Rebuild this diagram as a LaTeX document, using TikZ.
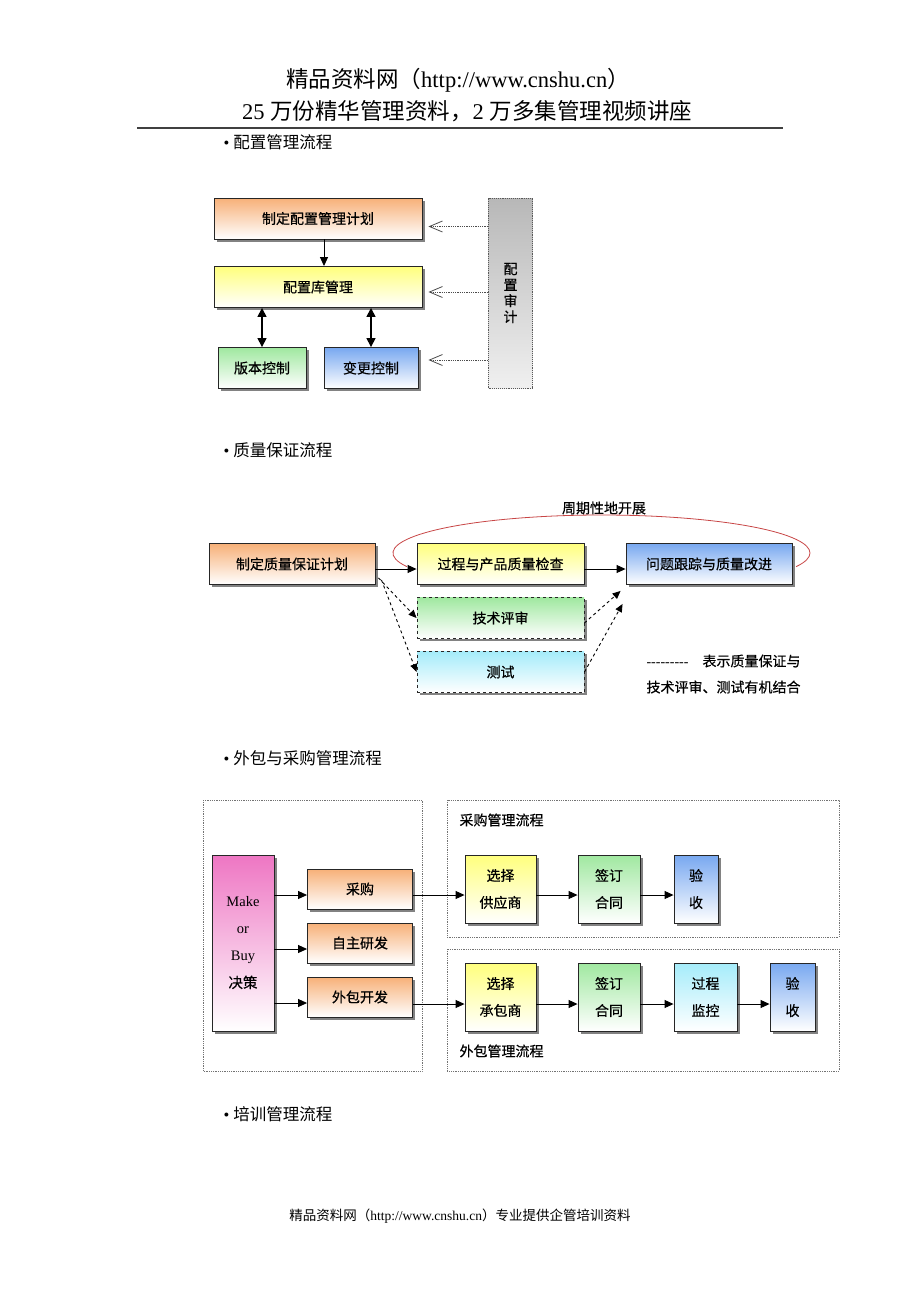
\documentclass[tikz,border=0pt]{standalone}
\usepackage{fontspec}
\setmainfont{Liberation Serif}
\newfontfamily\cjk{Noto Sans CJK SC}
\newfontfamily\cjkbox[FakeBold=0.4]{Noto Sans CJK SC}
\usetikzlibrary{arrows.meta,shadows}

\definecolor{boxorange}{RGB}{247,176,120}
\definecolor{boxyellow}{RGB}{255,255,125}
\definecolor{boxgreen}{RGB}{160,232,160}
\definecolor{boxblue}{RGB}{120,168,240}
\definecolor{boxcyan}{RGB}{165,236,250}
\definecolor{boxpink}{RGB}{238,118,195}
\definecolor{loopred}{RGB}{200,70,70}

\newcommand{\zh}[1]{{\cjk #1}}

\begin{document}
\begin{tikzpicture}[x=1pt,y=-1pt,
    wh/.style 2 args={minimum width=#1pt,minimum height=#2pt},
    flowbox/.style={draw=black!85, line width=0.9pt, bottom color=white, inner sep=0pt, align=center,
        drop shadow={shadow xshift=2.5pt,shadow yshift=-2.5pt,fill=black!65,opacity=0.75},
        font=\cjkbox\fontsize{14}{27}\selectfont},
    auditbox/.style={draw=black!65, densely dotted, line width=0.9pt, top color=black!28, bottom color=black!6,
        align=center, font=\cjkbox\fontsize{14}{16}\selectfont},
    regionbox/.style={draw=black!55, densely dotted, line width=0.8pt},
    zhtext/.style={font=\cjkbox\fontsize{14}{17}\selectfont},
    headtext/.style={font=\fontsize{16.5}{20}\selectfont, anchor=west},
    flowarrow/.style={line width=0.9pt, -{Triangle[length=9pt,width=8pt]}},
    bothways/.style={line width=1.5pt, {Triangle[length=9pt,width=9pt]}-{Triangle[length=9pt,width=9pt]}},
    auditarrow/.style={densely dotted, line width=0.8pt, draw=black!70, -{Straight Barb[length=13pt,width=11pt]}},
    dasharrow/.style={dashed, line width=0.9pt, -{Triangle[length=8pt,width=7pt]}}]

    \path[fill=white] (0,0) rectangle (920,1302);

    \node[font=\fontsize{22.5}{27}\selectfont] (title) at (458,80) {\zh{精品资料网（}http://www.cnshu.cn\zh{）}};
    \node[font=\fontsize{22.5}{27}\selectfont] (subtitle) at (467,111) {25 \zh{万份精华管理资料，}2 \zh{万多集管理视频讲座}};
    \draw[line width=1.6pt, black!75] (137,128) -- (783,128);

    \node[headtext] (secconfig) at (220,142) {\textbullet\hspace{4pt}\zh{配置管理流程}};
    \node[headtext] (secquality) at (220,450) {\textbullet\hspace{4pt}\zh{质量保证流程}};
    \node[headtext] (secsource) at (220,758) {\textbullet\hspace{4pt}\zh{外包与采购管理流程}};
    \node[headtext] (sectrain) at (220,1114) {\textbullet\hspace{4pt}\zh{培训管理流程}};

    \node[flowbox, top color=boxorange, wh={208}{41}] (cfgplan) at (318,218.5) {制定配置管理计划};
    \node[flowbox, top color=boxyellow, wh={208}{41}] (cfglib) at (318,287) {配置库管理};
    \node[flowbox, top color=boxgreen, wh={88}{41}] (version) at (262,368) {版本控制};
    \node[flowbox, top color=boxblue, wh={94}{41}] (change) at (371,368) {变更控制};
    \node[auditbox, wh={44}{190}] (audit) at (510.5,293) {配\\置\\审\\计};

    \draw[flowarrow] ([xshift=6pt]cfgplan.south) -- ([xshift=6pt]cfglib.north);
    \draw[bothways] (version.north) -- (version.north |- cfglib.south);
    \draw[bothways] (change.north) -- (change.north |- cfglib.south);
    \draw[auditarrow] ([yshift=-8pt]audit.west |- cfgplan.east) -- ([shift={(6pt,-8pt)}]cfgplan.east);
    \draw[auditarrow] ([yshift=-5pt]audit.west |- cfglib.east) -- ([shift={(6pt,-5pt)}]cfglib.east);
    \draw[auditarrow] ([yshift=8pt]audit.west |- change.east) -- ([shift={(6pt,8pt)}]cfglib.east |- change.east);

    \node[flowbox, top color=boxorange, wh={166}{41}] (qaplan) at (292,564) {制定质量保证计划};
    \node[flowbox, top color=boxyellow, wh={167}{41}] (inspect) at (500.5,564) {过程与产品质量检查};
    \node[flowbox, top color=boxblue, wh={166}{41}] (improve) at (709,564) {问题跟踪与质量改进};
    \node[flowbox, dashed, top color=boxgreen, wh={167}{41}] (review) at (500.5,618) {技术评审};
    \node[flowbox, dashed, top color=boxcyan, wh={167}{41}] (test) at (500.5,672) {测试};
    \node[zhtext] (cycle) at (604,508) {周期性地开展};
    \draw[loopred, line width=0.8pt] (601.5,553) ++(159:208.5 and 38) arc[start angle=159, end angle=381, x radius=208.5, y radius=38];

    \draw[flowarrow] ([yshift=-5pt]qaplan.east) -- ([yshift=-5pt]inspect.west);
    \draw[flowarrow] ([yshift=-5pt]inspect.east) -- ([yshift=-5pt]improve.west);
    \coordinate (tipa) at ([shift={(-5pt,-6pt)}]improve.south west);
    \coordinate (tipb) at ([shift={(-3pt,-19pt)}]improve.south west);
    \draw[dasharrow] ([shift={(3pt,7pt)}]qaplan.south east) -- (review.west);
    \draw[dasharrow] ([shift={(6pt,5pt)}]qaplan.south east) -- (test.west);
    \draw[dasharrow] ([yshift=-5pt]review.east) -- (tipa);
    \draw[dasharrow] (test.east) -- (tipb);
    \node[zhtext, anchor=west] (legenda) at (643,661) {\rmfamily -{}-{}-{}-{}-{}-{}-{}-{}-\hspace{14pt}\cjkbox 表示质量保证与};
    \node[zhtext, anchor=west] (legendb) at (643,687) {技术评审、测试有机结合};

    \draw[regionbox] (203,800) rectangle (422,1071);
    \draw[regionbox] (447,800) rectangle (839,937);
    \draw[regionbox] (447,949) rectangle (839,1071);
    \node[zhtext, anchor=west] (buyflow) at (456,820) {采购管理流程};
    \node[zhtext, anchor=west] (outflow) at (456,1051) {外包管理流程};

    \node[flowbox, top color=boxpink, wh={62}{176}, font=\fontsize{14.5}{27}\selectfont] (makebuy) at (243,943) {Make\\or\\Buy\\{\cjkbox 决策}};
    \foreach \nm/\y/\txt in {purchase/889/采购, selfdev/943/自主研发, outsource/997/外包开发}
    {
        \node[flowbox, top color=boxorange, wh={105}{40}] (\nm) at (360,\y) {\txt};
        \draw[flowarrow] ([yshift=-6pt]makebuy.east |- \nm.west) -- ([yshift=-6pt]\nm.west);
    }

    \node[flowbox, top color=boxyellow, wh={71}{68}] (choosea) at (500.5,889) {选择\\供应商};
    \node[flowbox, top color=boxgreen, wh={62}{68}] (signa) at (609,889) {签订\\合同};
    \node[flowbox, top color=boxblue, wh={44}{68}] (accepta) at (696,889) {验\\收};
    \node[flowbox, top color=boxyellow, wh={71}{68}] (chooseb) at (500.5,997) {选择\\承包商};
    \node[flowbox, top color=boxgreen, wh={62}{68}] (signb) at (609,997) {签订\\合同};
    \node[flowbox, top color=boxcyan, wh={63}{68}] (monitor) at (705.5,997) {过程\\监控};
    \node[flowbox, top color=boxblue, wh={45}{68}] (acceptb) at (792.5,997) {验\\收};

    \draw[flowarrow] ([yshift=-6pt]purchase.east) -- ([yshift=-6pt]choosea.west);
    \draw[flowarrow] ([yshift=-6pt]choosea.east) -- ([yshift=-6pt]signa.west);
    \draw[flowarrow] ([yshift=-6pt]signa.east) -- ([yshift=-6pt]accepta.west);
    \draw[flowarrow] ([yshift=-7pt]outsource.east) -- ([yshift=-7pt]chooseb.west);
    \draw[flowarrow] ([yshift=-7pt]chooseb.east) -- ([yshift=-7pt]signb.west);
    \draw[flowarrow] ([yshift=-7pt]signb.east) -- ([yshift=-7pt]monitor.west);
    \draw[flowarrow] ([yshift=-7pt]monitor.east) -- ([yshift=-7pt]acceptb.west);

    \node[font=\fontsize{13.5}{16}\selectfont] (footer) at (460,1216) {\zh{精品资料网（}http://www.cnshu.cn\zh{）专业提供企管培训资料}};
\end{tikzpicture}
\end{document}
